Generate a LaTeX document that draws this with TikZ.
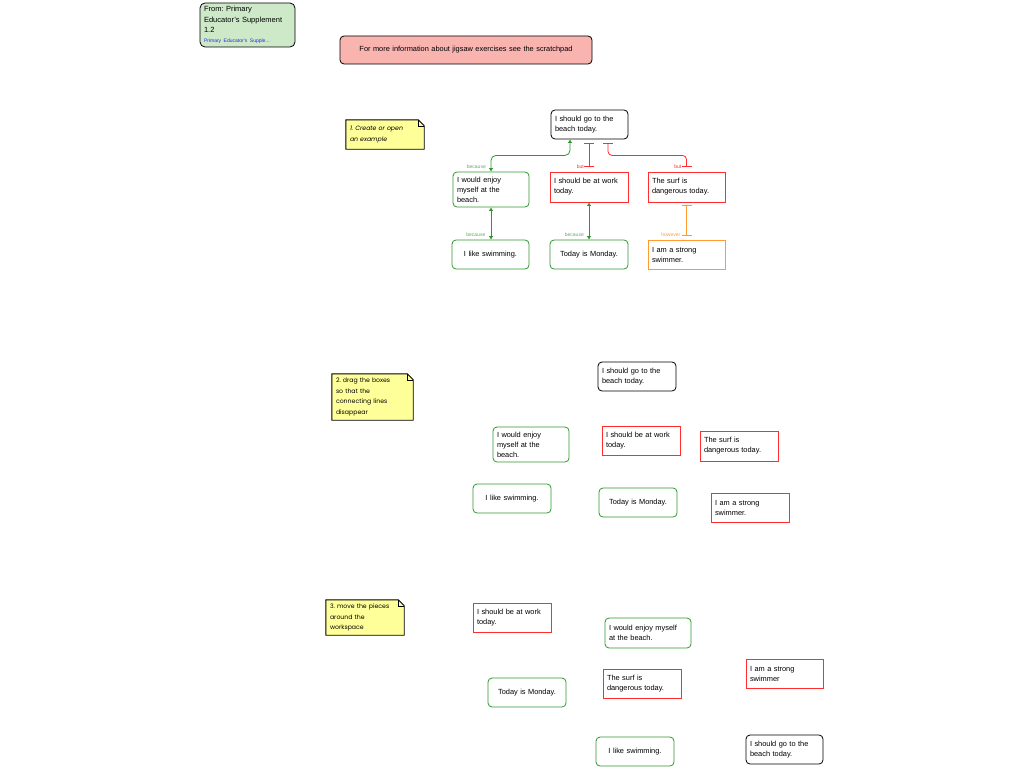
\documentclass[tikz,border=0pt]{standalone}
\usepackage{fontspec}
\setmainfont{Liberation Sans}
\newfontfamily\notefont{Poppins}
\frenchspacing
\usetikzlibrary{arrows.meta,backgrounds}
\definecolor{grn}{RGB}{45,150,45}
\definecolor{grnl}{RGB}{90,175,90}
\definecolor{rd}{RGB}{255,45,45}
\definecolor{org}{RGB}{255,155,50}
\definecolor{notey}{RGB}{255,255,153}
\definecolor{srcg}{RGB}{205,233,200}
\definecolor{pinkb}{RGB}{249,180,176}
\definecolor{lnk}{RGB}{40,40,230}
\newcommand\bx[7]{%
  \pgfmathsetmacro\bw{#5-#3}\pgfmathsetmacro\bh{#6-#4}\pgfmathsetmacro\tw{#5-#3-8}%
  \node[#1, minimum width=\bw pt, minimum height=\bh pt, text width=\tw pt] (#2) at ({(#3+#5)/2},{(#4+#6)/2}) {#7};}
\newcommand\notebox[1]{%
  \draw[line width=0.9pt, fill=notey] (#1.south west) -- (#1.north west) -- ([xshift=-6pt]#1.north east) -- ([yshift=-6pt]#1.north east) -- (#1.south east) -- cycle;
  \draw[line width=0.5pt] ([xshift=-6pt]#1.north east) -- ([xshift=-6pt,yshift=-6pt]#1.north east) -- ([yshift=-6pt]#1.north east);}
\tikzset{
  x=1pt, y=-1pt,
  txt/.style={font=\fontsize{7.4}{10}\selectfont, inner xsep=4pt, inner ysep=2pt, align=left},
  blk/.style={txt, draw=black, line width=0.8pt, rounded corners=4pt},
  gbox/.style={txt, draw=grn, line width=0.8pt, rounded corners=4pt},
  rbox/.style={txt, draw=rd, line width=0.8pt},
  obox/.style={txt, draw=org, line width=0.8pt},
  ctr/.style={align=center},
  note/.style={font=\fontsize{6.2}{10.5}\notefont, inner xsep=3pt, inner ysep=2pt, align=left},
  gc/.style={draw=grn, line width=0.8pt, {Latex[length=3.5pt,width=4.5pt]}-{Latex[length=3.5pt,width=4.5pt]}},
  rc/.style={draw=rd, line width=0.8pt, {Bar[width=10pt]}-{Bar[width=10pt]}, shorten <=4pt, shorten >=5pt},
  oc/.style={draw=org, line width=0.8pt, {Bar[width=10pt]}-{Bar[width=10pt]}, shorten <=3pt, shorten >=4pt},
  lab/.style={font=\fontsize{5}{6}\selectfont, inner sep=0pt, anchor=east},
}
\begin{document}
\begin{tikzpicture}
\useasboundingbox (0,0) rectangle (1024,768);

% header
\bx{txt, draw=black, line width=0.8pt, rounded corners=5pt, fill=srcg, font=\fontsize{7.5}{10.5}\selectfont}{src}{200}{3}{295}{47}{From: Primary\\Educator's Supplement\\1.2\\[-1pt]{\color{lnk}\fontsize{5}{6}\selectfont Primary Educator's Supple...}}
\bx{txt, draw=black, line width=0.8pt, rounded corners=4pt, fill=pinkb, ctr}{info}{340}{36}{592}{64}{For more information about jigsaw exercises see the scratchpad}

% section 1
\bx{note, font=\fontsize{6.2}{10.5}\notefont\itshape}{n1}{346}{120}{424}{149}{1. Create or open\\an example}
\bx{blk}{A}{551}{110}{628}{139}{I should go to the\\beach today.}
\bx{gbox}{B1}{453}{172}{529}{207}{I would enjoy\\myself at the\\beach.}
\bx{rbox}{B2}{550}{172}{628}{202}{I should be at work\\today.}
\bx{rbox}{B3}{648}{172}{725}{202}{The surf is\\dangerous today.}
\bx{gbox, ctr}{C1}{452}{240}{529}{269}{I like swimming.}
\bx{gbox, ctr}{C2}{550}{240}{628}{269}{Today is Monday.}
\bx{obox}{C3}{648}{240}{725}{269}{I am a strong\\swimmer.}

\draw[gc, rounded corners=5pt] ([xshift=-19.5pt]A.south) -- ++(0,16) -| (B1.north);
\draw[rc] (A.south -| B2.north) -- (B2.north);
\draw[rc, rounded corners=4pt] ([xshift=18.5pt]A.south) -- ++(0,16) -| (B3.north);
\draw[gc] (B1.south) -- (B1.south |- C1.north);
\draw[gc] (B2.south) -- (B2.south |- C2.north);
\draw[oc] (B3.south) -- (B3.south |- C3.north);

\node[lab, text=grnl] (l1) at ([xshift=-5pt,yshift=5pt]B1.north) {because};
\node[lab, text=rd] (l2) at ([xshift=-5pt,yshift=5pt]B2.north) {but};
\node[lab, text=rd] (l3) at ([xshift=-5pt,yshift=5pt]B3.north) {but};
\node[lab, text=grnl] (l4) at ([xshift=-5pt,yshift=5pt]C1.north) {because};
\node[lab, text=grnl] (l5) at ([xshift=-5pt,yshift=5pt]C2.north) {because};
\node[lab, text=org] (l6) at ([xshift=-6pt,yshift=5pt]C3.north) {however};

% section 2
\bx{note}{n2}{332}{374}{413}{420}{2. drag the boxes\\so that the\\connecting lines\\disappear}
\bx{blk}{A2}{598}{362}{676}{391}{I should go to the\\beach today.}
\bx{gbox}{B12}{493}{427}{569}{462}{I would enjoy\\myself at the\\beach.}
\bx{rbox}{B22}{602}{426}{680}{455}{I should be at work\\today.}
\bx{rbox}{B32}{700}{431}{778}{461}{The surf is\\dangerous today.}
\bx{gbox, ctr}{C12}{473}{484}{551}{513}{I like swimming.}
\bx{gbox, ctr}{C22}{599}{488}{677}{517}{Today is Monday.}
\bx{rbox}{C32}{711}{493}{789}{522}{I am a strong\\swimmer.}

% section 3
\bx{note}{n3}{326}{600}{404}{635}{3. move the pieces\\around the\\workspace}
\bx{rbox}{B23}{473}{603}{551}{632}{I should be at work\\today.}
\bx{gbox}{B13}{605}{618}{691}{648}{I would enjoy myself\\at the beach.}
\bx{rbox}{C33}{746}{659}{823}{688}{I am a strong\\swimmer}
\bx{rbox}{B33}{603}{669}{681}{698}{The surf is\\dangerous today.}
\bx{gbox, ctr}{C23}{488}{678}{566}{707}{Today is Monday.}
\bx{gbox, ctr}{C13}{596}{737}{674}{766}{I like swimming.}
\bx{blk}{A3}{746}{735}{823}{764}{I should go to the\\beach today.}

\begin{scope}[on background layer]
\notebox{n1}
\notebox{n2}
\notebox{n3}
\end{scope}
\end{tikzpicture}
\end{document}
